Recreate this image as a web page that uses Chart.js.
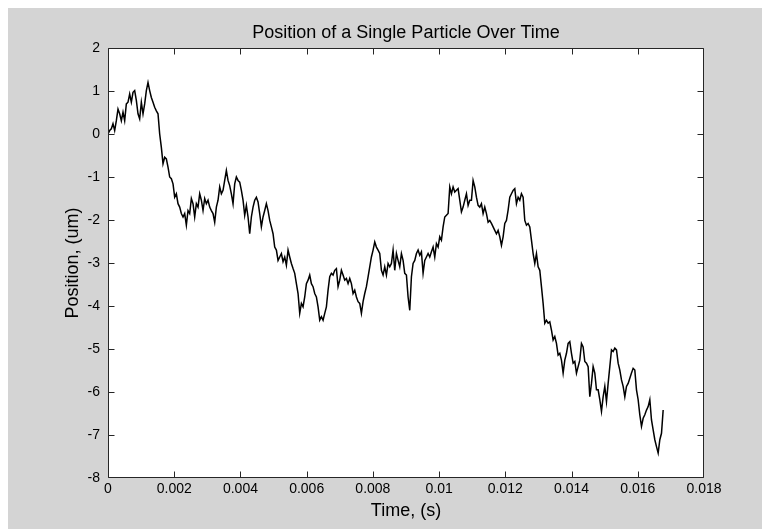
<!DOCTYPE html>
<html><head><meta charset="utf-8">
<script src="https://cdn.jsdelivr.net/npm/chart.js@4"></script>
<style>
html,body{margin:0;padding:0;background:#fff;overflow:hidden;}
#wrap{position:absolute;left:8px;top:8px;width:754px;height:521px;background:#d4d4d4;}
canvas{display:block;}
</style></head><body>
<div id="wrap"><canvas id="c" width="754" height="521"></canvas></div>
<script>
const sampleInterval = 5.035e-5;

// Particle position (um) at each sample
const positions = [
  0.00, 0.08, 0.12, 0.24, 0.08, 0.31, 0.58, 0.47, 0.31, 0.51,
  0.31, 0.70, 0.74, 0.93, 0.74, 0.97, 1.01, 0.78, 0.47, 0.35,
  0.74, 0.47, 0.70, 1.01, 1.20, 1.01, 0.85, 0.74, 0.62, 0.54,
  0.47, 0.00, -0.31, -0.69, -0.54, -0.58, -0.77, -1.00, -1.04, -1.16,
  -1.47, -1.39, -1.62, -1.70, -1.85, -1.93, -1.85, -2.12, -1.78, -1.85,
  -1.50, -1.62, -1.93, -1.62, -1.70, -1.39, -1.54, -1.78, -1.50, -1.62,
  -1.54, -1.70, -1.78, -1.85, -2.05, -1.70, -1.54, -1.23, -1.39, -1.31,
  -1.08, -0.85, -1.08, -1.20, -1.39, -1.62, -1.16, -1.00, -1.08,
  -1.12, -1.31, -1.54, -1.89, -1.66, -1.93, -2.32, -1.93, -1.70, -1.54,
  -1.47, -1.58, -1.85, -2.16, -1.93, -1.78, -1.62, -1.78, -2.01, -2.16,
  -2.32, -2.63, -2.70, -2.94, -2.86, -2.78, -2.97, -2.86, -3.05, -2.70,
  -2.86, -3.01, -3.13, -3.24, -3.48, -3.71, -4.17, -3.94, -4.02, -3.79,
  -3.48, -3.40, -3.28, -3.48, -3.55, -3.71, -3.79, -4.02, -4.33, -4.25,
  -4.33, -4.17, -4.02, -3.63, -3.32, -3.24, -3.28, -3.17, -3.13, -3.55,
  -3.40, -3.17, -3.28, -3.40, -3.36, -3.48, -3.36, -3.48, -3.71, -3.63,
  -3.79, -3.90, -3.94, -4.17, -3.90, -3.71, -3.55, -3.32, -3.09, -2.86,
  -2.70, -2.51, -2.63, -2.70,
  -2.78, -3.17, -3.28, -3.09, -3.28, -3.01, -3.09, -3.01, -2.70, -3.17,
  -2.78, -2.94, -3.09, -2.78, -2.94, -3.24, -3.28, -3.79, -4.10, -3.32,
  -3.01, -2.94, -2.78, -2.70, -2.82, -2.74, -3.24, -2.94, -2.86, -2.78,
  -2.86, -2.74, -2.63, -2.86, -2.55, -2.63, -2.39, -2.47, -2.16, -1.93,
  -1.89, -1.85, -1.23, -1.39, -1.23, -1.35, -1.31, -1.27, -1.54, -1.81,
  -1.70, -1.54, -1.39, -1.66, -1.54, -1.54, -1.08, -1.23, -1.47, -1.66,
  -1.70, -1.62, -1.85, -1.70, -1.85, -2.05, -2.01, -2.08, -2.16, -2.24,
  -2.32, -2.24, -2.39, -2.59, -2.39, -2.08, -2.01, -1.77, -1.47, -1.39,
  -1.31, -1.27, -1.62, -1.47,
  -1.54, -1.39, -1.47, -2.01, -2.12, -2.08, -2.16, -2.47, -2.78, -3.01,
  -2.78, -3.09, -3.17, -3.55, -3.94, -4.40, -4.33, -4.40, -4.37, -4.56,
  -4.79, -4.71, -4.87, -5.14, -5.10, -5.26, -5.56, -5.26, -5.10, -4.87,
  -4.83, -5.10, -5.33, -5.29, -5.56, -5.41, -5.26, -4.87, -4.95, -5.29,
  -5.33, -5.41, -6.11, -5.80, -5.41, -5.56, -5.95, -5.95, -6.18, -6.45,
  -6.11, -5.87, -6.22, -5.80, -5.41, -5.02, -5.06, -4.98, -5.02, -5.33,
  -5.49, -5.72, -5.87, -6.11, -5.87, -5.80, -5.68, -5.56, -5.45, -5.49,
  -5.95, -6.18, -6.53, -6.80, -6.61, -6.53, -6.42, -6.34, -6.18, -6.65,
  -6.88, -7.11, -7.27, -7.42, -7.11, -6.96, -6.42
];

const xTickValues = [0, 0.002, 0.004, 0.006, 0.008, 0.01, 0.012, 0.014, 0.016, 0.018];
const xTickLabels = ['0', '0.002', '0.004', '0.006', '0.008', '0.01', '0.012', '0.014', '0.016', '0.018'];
const yTickValues = [-8, -7, -6, -5, -4, -3, -2, -1, 0, 1, 2];
const yTickLabels = ['-8', '-7', '-6', '-5', '-4', '-3', '-2', '-1', '0', '1', '2'];

const titleText = 'Position of a Single Particle Over Time';
const xTitle = 'Time, (s)';
const yTitle = 'Position, (um)';

const FONT = '"Liberation Sans", Arial, Helvetica, sans-serif';
const AXIS_COLOR = '#262626';

const points = positions.map((v, i) => ({ x: i * sampleInterval, y: v }));

const framePlugin = {
  id: 'frame',
  beforeDraw(chart) {
    const { ctx, chartArea: a } = chart;
    ctx.save();
    ctx.fillStyle = '#ffffff';
    ctx.fillRect(a.left, a.top, a.right - a.left, a.bottom - a.top);
    ctx.restore();
  },
  afterDatasetsDraw(chart) {
    const { ctx, chartArea: a, scales: { x, y } } = chart;
    const L = Math.round(a.left) + 0.5, R = Math.round(a.right) - 0.5;
    const T = Math.round(a.top) + 0.5, B = Math.round(a.bottom) - 0.5;
    const len = 6;
    const clamp = (v, lo, hi) => Math.min(hi, Math.max(lo, v));
    ctx.save();
    ctx.strokeStyle = AXIS_COLOR;
    ctx.lineWidth = 1;
    ctx.beginPath();
    ctx.rect(L, T, R - L, B - T);
    x.ticks.forEach(t => {
      const px = clamp(Math.round(x.getPixelForValue(t.value)) + 0.5, L, R);
      ctx.moveTo(px, B); ctx.lineTo(px, B - len);
      ctx.moveTo(px, T); ctx.lineTo(px, T + len);
    });
    y.ticks.forEach(t => {
      const py = clamp(Math.round(y.getPixelForValue(t.value)) + 0.5, T, B);
      ctx.moveTo(L, py); ctx.lineTo(L + len, py);
      ctx.moveTo(R, py); ctx.lineTo(R - len, py);
    });
    ctx.stroke();
    ctx.restore();
  }
};

new Chart(document.getElementById('c'), {
  type: 'line',
  data: {
    datasets: [{
      data: points,
      borderColor: '#000000',
      borderWidth: 1.5,
      pointRadius: 0,
      tension: 0,
      fill: false
    }]
  },
  options: {
    responsive: false,
    animation: false,
    events: [],
    layout: { padding: { left: 0, top: 0, right: 58, bottom: 0 } },
    plugins: {
      legend: { display: false },
      tooltip: { enabled: false },
      title: {
        display: true,
        text: titleText,
        color: '#000',
        fullSize: false,
        font: { family: FONT, size: 18, weight: 'normal' },
        padding: { top: 14, bottom: 4.4 }
      }
    },
    scales: {
      x: {
        type: 'linear',
        min: 0,
        max: 0.018,
        border: { display: false },
        grid: { display: false, drawTicks: false },
        afterBuildTicks: s => { s.ticks = xTickValues.map(v => ({ value: v })); },
        afterFit: s => { s.height = 51; },
        ticks: {
          autoSkip: false, maxRotation: 0, minRotation: 0, padding: 3,
          color: '#000', font: { family: FONT, size: 14 },
          callback: (v, i) => xTickLabels[i]
        },
        title: {
          display: true, text: xTitle, color: '#000',
          font: { family: FONT, size: 18 },
          padding: { top: 0, bottom: 7 }
        }
      },
      y: {
        type: 'linear',
        min: -8,
        max: 2,
        border: { display: false },
        grid: { display: false, drawTicks: false },
        afterBuildTicks: s => { s.ticks = yTickValues.map(v => ({ value: v })); },
        afterFit: s => { s.width = 100; },
        ticks: {
          autoSkip: false, padding: 8,
          color: '#000', font: { family: FONT, size: 14 },
          callback: (v, i) => yTickLabels[i]
        },
        title: {
          display: true, text: yTitle, color: '#000',
          font: { family: FONT, size: 18 },
          padding: { top: 54, bottom: 0 }
        }
      }
    }
  },
  plugins: [framePlugin]
});
</script>
</body></html>
